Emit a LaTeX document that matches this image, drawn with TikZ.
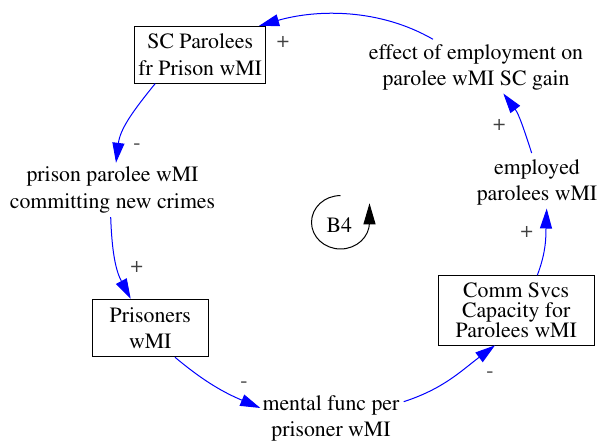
\documentclass[tikz,border=0pt]{standalone}
\usepackage[T1]{fontenc}
\renewcommand{\rmdefault}{ptm}
\usetikzlibrary{arrows.meta}
\begin{document}
\begin{tikzpicture}[x=1pt,y=1pt,
  every node/.style={font=\rmfamily\fontsize{21.8}{26.5}\selectfont},
  box/.style={draw=black, line width=0.8pt, inner sep=0pt, align=center},
  txt/.style={inner sep=0pt, align=center},
  link/.style={draw=blue, line width=1pt, -{Triangle[length=20pt,width=12pt]}},
  pol/.style={text=black!75, inner sep=0pt},
  loopmark/.style={draw=black, line width=1pt, -{Triangle[length=21pt,width=12pt]}}
]
\useasboundingbox (0,0) rectangle (600,441);

% variables of the balancing loop
\node[box, minimum width=131pt, minimum height=57pt] (sc) at (200.2,386.3) {SC Parolees\\fr Prison wMI};
\node[txt, minimum width=200pt, minimum height=54pt] (pr) at (112.5,251) {prison parolee wMI\\committing new crimes};
\node[box, minimum width=116pt, minimum height=57.7pt] (prs) at (150.3,113) {Prisoners\\wMI};
\node[txt, minimum width=141pt, minimum height=40pt] (mf) at (331,22.7) {mental func per\\prisoner wMI};
\node[box, minimum width=155.7pt, minimum height=69.3pt, font=\rmfamily\fontsize{21.8}{20}\selectfont] (cs) at (516.2,130.7) {Comm Svcs\\Capacity for\\Parolees wMI};
\node[txt, minimum width=128pt, minimum height=56pt] (emp) at (537,258.5) {employed\\parolees wMI};
\node[txt, minimum width=220pt, minimum height=56pt] (eff) at (476,373.5) {effect of employment on\\parolee wMI SC gain};
\node (b4) at (339.3,216) {B4};

% causal links
\draw[link] ([xshift=-43pt]eff.north) to[out=150,in=16,looseness=0.9] ([xshift=-7pt]sc.north east);
\draw[link] ([xshift=-45pt]sc.south) to[out=231,in=83] ([xshift=3.5pt]pr.north);
\draw[link] ([xshift=-1.8pt]pr.south) to[out=272,in=118] ([xshift=-19.6pt]prs.north);
\draw[link] ([xshift=24.7pt]prs.south) to[out=320,in=157] ([yshift=10.3pt]mf.west);
\draw[link] ([shift={(2pt,16.6pt)}]mf.east) to[out=18,in=217] ([xshift=-21.2pt]cs.south);
\draw[link] ([xshift=21.1pt]cs.north) to[out=69,in=268] ([shift={(9.7pt,2.2pt)}]emp.south);
\draw[link] ([shift={(-5.3pt,1.2pt)}]emp.north) to[out=108,in=307] ([shift={(27.3pt,2.2pt)}]eff.south);

% link polarities
\node[pol] (p1) at (283,399) {+};
\node[pol] (p2) at (137,294) {-};
\node[pol] (p3) at (136.7,174.3) {+};
\node[pol] (p4) at (244,56) {-};
\node[pol] (p5) at (490,66) {-};
\node[pol] (p6) at (526.7,209.3) {+};
\node[pol] (p7) at (499.3,316) {+};

% loop direction marker
\draw[loopmark] ([shift={(1.2pt,29.4pt)}]b4.center)
  arc[start angle=90, end angle=360, x radius=29pt, y radius=26.7pt] -- ++(0,19);
\end{tikzpicture}
\end{document}
